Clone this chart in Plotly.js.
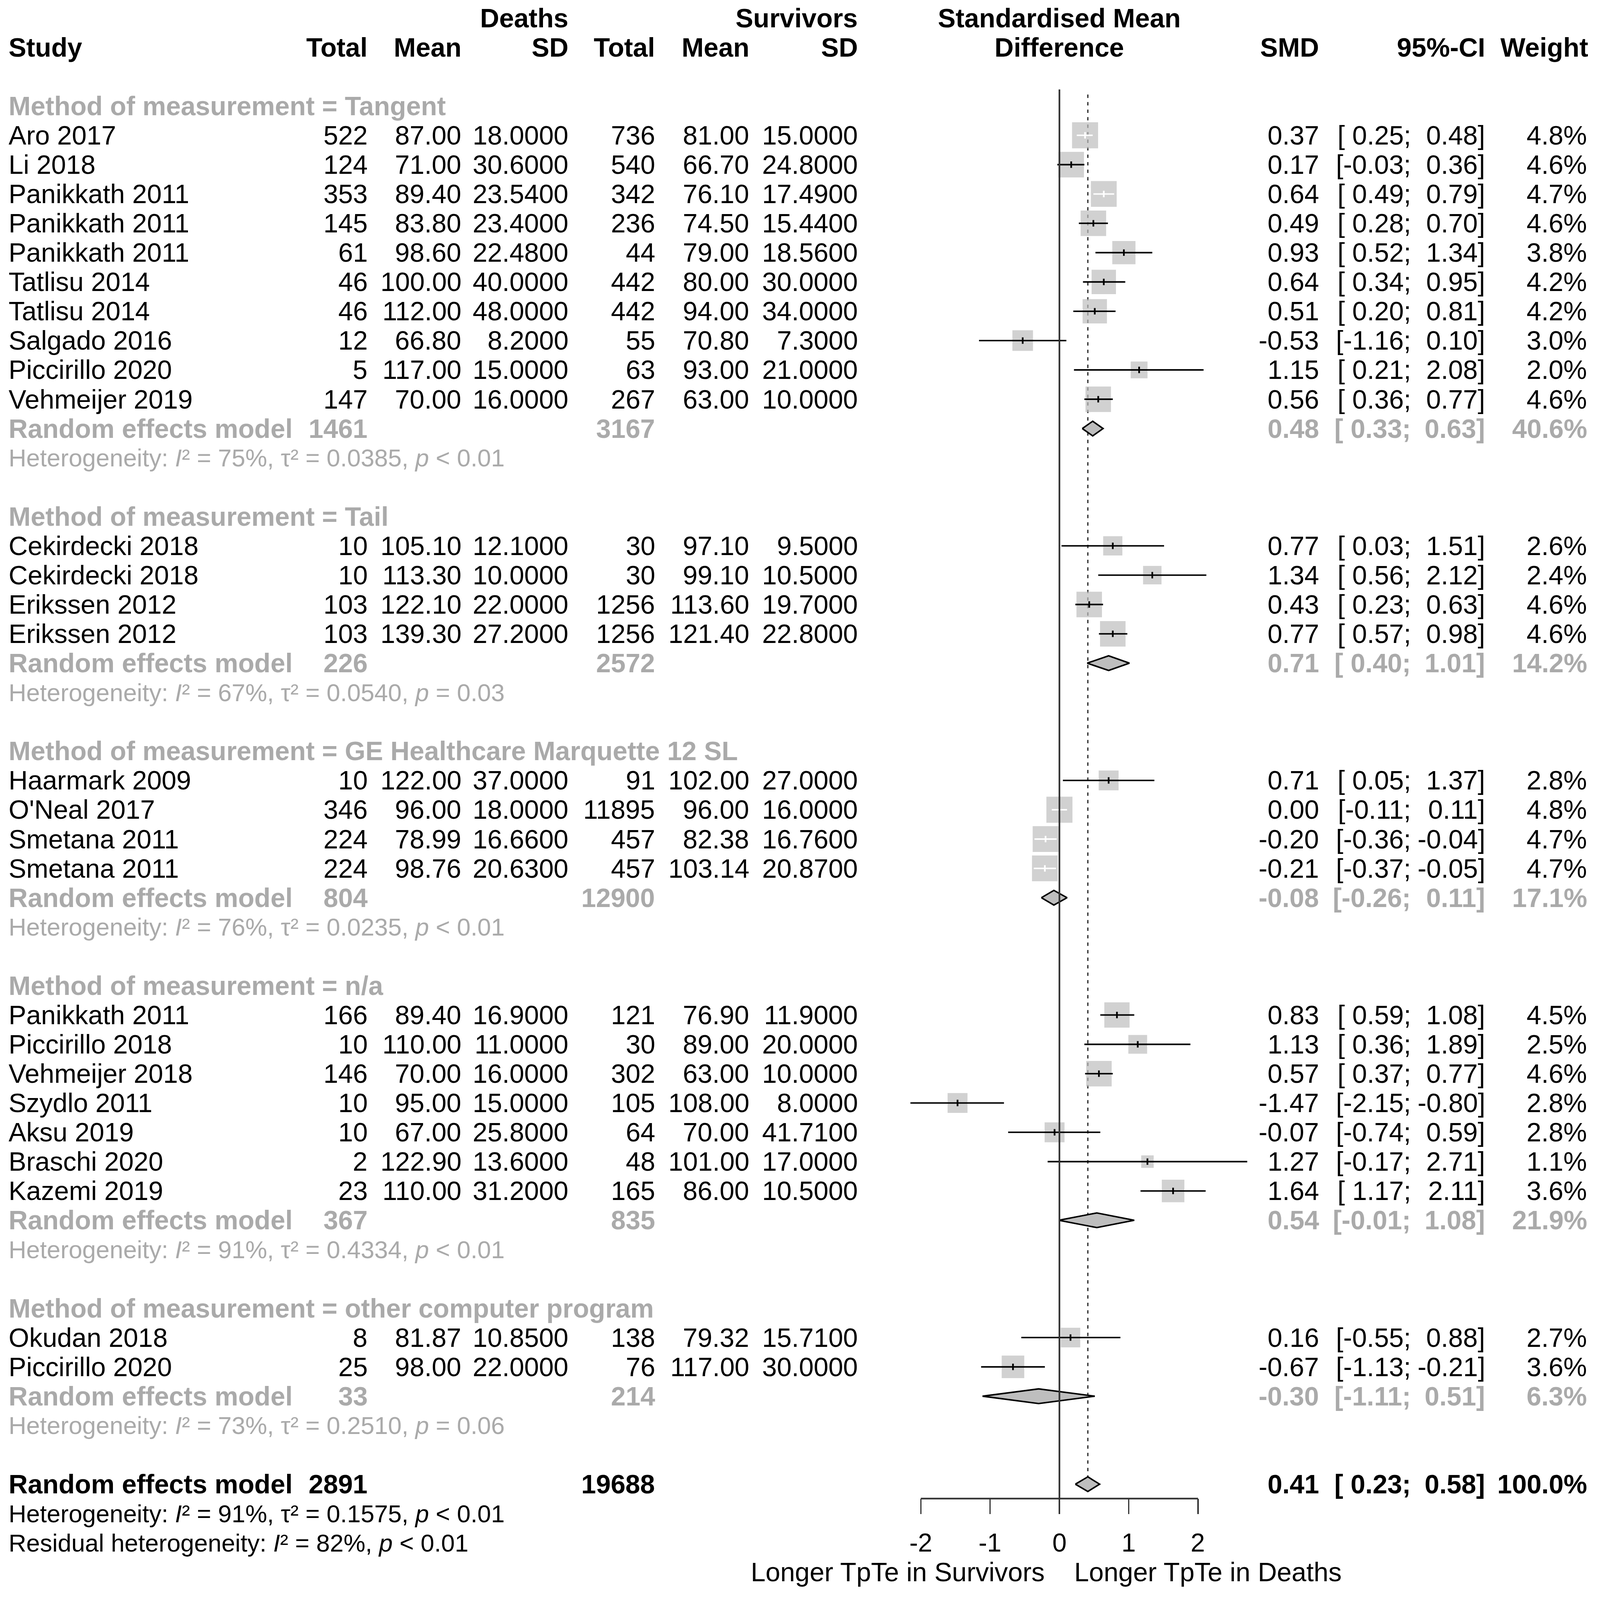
<!DOCTYPE html>
<html><head><meta charset="utf-8">
<script src="https://cdn.plot.ly/plotly-3.0.1.min.js"></script>
<style>html,body{margin:0;padding:0;background:#fff;overflow:hidden}</style>
</head><body><div id="chart"></div>
<script>
// ---------------- DATA ----------------
const groupNames = ["Tangent", "Tail", "GE Healthcare Marquette 12 SL", "n/a", "other computer program"];
const studyNames = ["Aro 2017","Li 2018","Panikkath 2011","Panikkath 2011","Panikkath 2011","Tatlisu 2014","Tatlisu 2014","Salgado 2016","Piccirillo 2020","Vehmeijer 2019",
  "Cekirdecki 2018","Cekirdecki 2018","Erikssen 2012","Erikssen 2012",
  "Haarmark 2009","O'Neal 2017","Smetana 2011","Smetana 2011",
  "Panikkath 2011","Piccirillo 2018","Vehmeijer 2018","Szydlo 2011","Aksu 2019","Braschi 2020","Kazemi 2019",
  "Okudan 2018","Piccirillo 2020"];
const studyGroup = [0,0,0,0,0,0,0,0,0,0, 1,1,1,1, 2,2,2,2, 3,3,3,3,3,3,3, 4,4];
const deathsTotal = [522,124,353,145,61,46,46,12,5,147, 10,10,103,103, 10,346,224,224, 166,10,146,10,10,2,23, 8,25];
const deathsMean = [87.00,71.00,89.40,83.80,98.60,100.00,112.00,66.80,117.00,70.00, 105.10,113.30,122.10,139.30, 122.00,96.00,78.99,98.76, 89.40,110.00,70.00,95.00,67.00,122.90,110.00, 81.87,98.00];
const deathsSD = [18.0,30.6,23.54,23.40,22.48,40.0,48.0,8.2,15.0,16.0, 12.1,10.0,22.0,27.2, 37.0,18.0,16.66,20.63, 16.9,11.0,16.0,15.0,25.8,13.6,31.2, 10.85,22.0];
const survTotal = [736,540,342,236,44,442,442,55,63,267, 30,30,1256,1256, 91,11895,457,457, 121,30,302,105,64,48,165, 138,76];
const survMean = [81.00,66.70,76.10,74.50,79.00,80.00,94.00,70.80,93.00,63.00, 97.10,99.10,113.60,121.40, 102.00,96.00,82.38,103.14, 76.90,89.00,63.00,108.00,70.00,101.00,86.00, 79.32,117.00];
const survSD = [15.0,24.8,17.49,15.44,18.56,30.0,34.0,7.3,21.0,10.0, 9.5,10.5,19.7,22.8, 27.0,16.0,16.76,20.87, 11.9,20.0,10.0,8.0,41.71,17.0,10.5, 15.71,30.0];
const smd = [0.37,0.17,0.64,0.49,0.93,0.64,0.51,-0.53,1.15,0.56, 0.77,1.34,0.43,0.77, 0.71,0.00,-0.20,-0.21, 0.83,1.13,0.57,-1.47,-0.07,1.27,1.64, 0.16,-0.67];
const ciLower = [0.25,-0.03,0.49,0.28,0.52,0.34,0.20,-1.16,0.21,0.36, 0.03,0.56,0.23,0.57, 0.05,-0.11,-0.36,-0.37, 0.59,0.36,0.37,-2.15,-0.74,-0.17,1.17, -0.55,-1.13];
const ciUpper = [0.48,0.36,0.79,0.70,1.34,0.95,0.81,0.10,2.08,0.77, 1.51,2.12,0.63,0.98, 1.37,0.11,-0.04,-0.05, 1.08,1.89,0.77,-0.80,0.59,2.71,2.11, 0.88,-0.21];
const weight = [4.8,4.6,4.7,4.6,3.8,4.2,4.2,3.0,2.0,4.6, 2.6,2.4,4.6,4.6, 2.8,4.8,4.7,4.7, 4.5,2.5,4.6,2.8,2.8,1.1,3.6, 2.7,3.6];

const groupDeathsTotal = [1461,226,804,367,33];
const groupSurvTotal = [3167,2572,12900,835,214];
const groupSMD = [0.48,0.71,-0.08,0.54,-0.30];
const groupLower = [0.33,0.40,-0.26,-0.01,-1.11];
const groupUpper = [0.63,1.01,0.11,1.08,0.51];
const groupWeight = [40.6,14.2,17.1,21.9,6.3];
const groupI2 = [75,67,76,91,73];
const groupTau2 = [0.0385,0.0540,0.0235,0.4334,0.2510];
const groupP = ["< 0.01","= 0.03","< 0.01","< 0.01","= 0.06"];

const overallDeathsTotal = 2891, overallSurvTotal = 19688;
const overallSMD = 0.41, overallLower = 0.23, overallUpper = 0.58, overallWeight = 100.0;
const overallI2 = 91, overallTau2 = 0.1575, overallP = "< 0.01";
const residualI2 = 82, residualP = "< 0.01";

const axisTicks = [-2,-1,0,1,2];
const axisTickText = ["-2","-1","0","1","2"];
const leftLabel = "Longer TpTe in Survivors", rightLabel = "Longer TpTe in Deaths";

// ---------------- LAYOUT GEOMETRY ----------------
// geometry is measured in the 4107x4434 reference; the figure is fitted to the real viewport
const REF_W = 4107, REF_H = 4434;
const W = Math.min(REF_W, window.innerWidth || REF_W);
const H = Math.min(REF_H, window.innerHeight || REF_H);
const sx = W / REF_W, sy = H / REF_H, k = (sx + sy) / 2;
const chartDiv = document.getElementById("chart");
chartDiv.style.width = W + "px"; chartDiv.style.height = H + "px";

const ROW_PX = 81.26, ROW1_PX = 50;
const X0_PX = 2719.4, UNIT_PX = 177.9;
const yTop = 1 - ROW1_PX / ROW_PX, yBot = 1 + (REF_H - ROW1_PX) / ROW_PX;
const xLeft = -X0_PX / UNIT_PX, xRight = (REF_W - X0_PX) / UNIT_PX;
const rowOfPx = px => 1 + (px - ROW1_PX) / ROW_PX;
const FONT = "Liberation Sans, Arial, Helvetica, sans-serif";
const GRAY = "#aaaaaa", SQ = "#bebebe";
const FS = 68 * sx, FSB = 68 * sx, FSH = 63 * sx, FST = 66 * sx;
const col = {study: 20, dT: 946, dM: 1186, dS: 1461, sT: 1684, sM: 1925, sS: 2204, smd: 3388, lo: 3624, hi: 3814, w: 4076};

// rows
const studyRow = [], headRow = [], reRow = [], hetRow = [];
let r = 4;
groupNames.forEach((g, gi) => {
  headRow[gi] = r++;
  studyGroup.forEach((sg, i) => { if (sg === gi) studyRow[i] = r++; });
  reRow[gi] = r++;
  hetRow[gi] = r++;
  r++;
});
const overallRow = r, overallHetRow = r + 1, residualRow = r + 2, labelRow = r + 3;

const ann = [];
function T(px, row, text, anchor, opts) {
  opts = opts || {};
  ann.push({x: px / REF_W, xref: "paper", y: row, yref: "y", text: text, showarrow: false,
    xanchor: anchor, yanchor: "middle",
    font: {family: FONT, size: opts.size || FS, color: opts.color || "#000"}});
}
const B = s => "<b>" + s + "</b>";
const ciLo = v => "[" + (v < 0 ? "" : " ") + v.toFixed(2) + ";";
const ciHi = v => v.toFixed(2) + "]";
const pct = v => v.toFixed(1) + "%";

// headers
T(col.dS, 1, B("Deaths"), "right", {size: FSB});
T(col.sS, 1, B("Survivors"), "right", {size: FSB});
T(X0_PX, 1, B("Standardised Mean"), "center", {size: FSB});
T(col.study, 2, B("Study"), "left", {size: FSB});
T(col.dT, 2, B("Total"), "right", {size: FSB});
T(col.dM, 2, B("Mean"), "right", {size: FSB});
T(col.dS, 2, B("SD"), "right", {size: FSB});
T(col.sT, 2, B("Total"), "right", {size: FSB});
T(col.sM, 2, B("Mean"), "right", {size: FSB});
T(col.sS, 2, B("SD"), "right", {size: FSB});
T(X0_PX, 2, B("Difference"), "center", {size: FSB});
T(col.smd, 2, B("SMD"), "right", {size: FSB});
T(col.hi, 2, B("95%-CI"), "right", {size: FSB});
T(col.w + 3, 2, B("Weight"), "right", {size: FSB});

// studies
studyNames.forEach((n, i) => {
  const y = studyRow[i];
  T(col.study, y, n, "left");
  T(col.dT, y, String(deathsTotal[i]), "right");
  T(col.dM, y, deathsMean[i].toFixed(2), "right");
  T(col.dS, y, deathsSD[i].toFixed(4), "right");
  T(col.sT, y, String(survTotal[i]), "right");
  T(col.sM, y, survMean[i].toFixed(2), "right");
  T(col.sS, y, survSD[i].toFixed(4), "right");
  T(col.smd, y, smd[i].toFixed(2), "right");
  T(col.lo, y, ciLo(ciLower[i]), "right");
  T(col.hi, y, ciHi(ciUpper[i]), "right");
  T(col.w, y, pct(weight[i]), "right");
});

const hetText = (i2, tau2, p) => "Heterogeneity: <i>I</i>\u00b2 = " + i2 + "%, \u03c4\u00b2 = " + tau2.toFixed(4) + ", <i>p</i> " + p.replace("<", "&lt;");

// subgroups
groupNames.forEach((g, gi) => {
  const o = {color: GRAY, size: FSB};
  T(col.study, headRow[gi], B("Method of measurement = " + g), "left", o);
  T(col.study, reRow[gi], B("Random effects model"), "left", o);
  T(col.dT, reRow[gi], B(String(groupDeathsTotal[gi])), "right", o);
  T(col.sT, reRow[gi], B(String(groupSurvTotal[gi])), "right", o);
  T(col.smd, reRow[gi], B(groupSMD[gi].toFixed(2)), "right", o);
  T(col.lo, reRow[gi], B(ciLo(groupLower[gi])), "right", o);
  T(col.hi, reRow[gi], B(ciHi(groupUpper[gi])), "right", o);
  T(col.w, reRow[gi], B(pct(groupWeight[gi])), "right", o);
  T(col.study, hetRow[gi], hetText(groupI2[gi], groupTau2[gi], groupP[gi]), "left", {color: GRAY, size: FSH});
});

// overall
T(col.study, overallRow, B("Random effects model"), "left", {size: FSB});
T(col.dT, overallRow, B(String(overallDeathsTotal)), "right", {size: FSB});
T(col.sT, overallRow, B(String(overallSurvTotal)), "right", {size: FSB});
T(col.smd, overallRow, B(overallSMD.toFixed(2)), "right", {size: FSB});
T(col.lo, overallRow, B(ciLo(overallLower)), "right", {size: FSB});
T(col.hi, overallRow, B(ciHi(overallUpper)), "right", {size: FSB});
T(col.w, overallRow, B(pct(overallWeight)), "right", {size: FSB});
T(col.study, overallHetRow, hetText(overallI2, overallTau2, overallP), "left", {size: FSH});
T(col.study, residualRow, "Residual heterogeneity: <i>I</i>\u00b2 = " + residualI2 + "%, <i>p</i> " + residualP.replace("<", "&lt;"), "left", {size: FSH});
T(X0_PX - 36, labelRow, leftLabel, "right");
T(X0_PX + 36, labelRow, rightLabel, "left");

// axis tick labels, placed on the SMD scale
const TICKLABEL_PX = 4275;
axisTicks.forEach((v, i) => {
  ann.push({x: v, xref: "x", y: rowOfPx(TICKLABEL_PX), yref: "y", text: axisTickText[i], showarrow: false,
    xanchor: "center", yanchor: "middle", font: {family: FONT, size: FST, color: "#000"}});
});

// ---------------- MARKS ----------------
const SQ_K = 31.7; // reference px per sqrt(weight %)
const sqSizeRef = weight.map(w => SQ_K * Math.sqrt(w));
const TICK_H = 0.11;
const blk = {x: [], y: []}, wht = {x: [], y: []}, blkT = {x: [], y: []}, whtT = {x: [], y: []};
smd.forEach((v, i) => {
  const half = sqSizeRef[i] / 2 / UNIT_PX;
  const inside = ciLower[i] >= v - half && ciUpper[i] <= v + half;
  const L = inside ? wht : blk, Tt = inside ? whtT : blkT;
  L.x.push(ciLower[i], ciUpper[i], null); L.y.push(studyRow[i], studyRow[i], null);
  Tt.x.push(v, v, null); Tt.y.push(studyRow[i] - TICK_H, studyRow[i] + TICK_H, null);
});
const DH = 0.25;
const dia = {x: [], y: []};
function addDiamond(lo, est, hi, row) {
  dia.x.push(lo, est, hi, est, lo, null);
  dia.y.push(row, row - DH, row, row + DH, row, null);
}
groupNames.forEach((g, gi) => addDiamond(groupLower[gi], groupSMD[gi], groupUpper[gi], reRow[gi]));
addDiamond(overallLower, overallSMD, overallUpper, overallRow);

const traces = [
  {type: "scatter", mode: "markers", x: smd, y: studyRow, marker: {symbol: "square", size: sqSizeRef.map(s => s * k), color: SQ, line: {width: 0}}, hoverinfo: "skip"},
  {type: "scatter", mode: "lines", x: blk.x, y: blk.y, line: {color: "#000", width: 4 * k}, hoverinfo: "skip"},
  {type: "scatter", mode: "lines", x: blkT.x, y: blkT.y, line: {color: "#000", width: 4.5 * k}, hoverinfo: "skip"},
  {type: "scatter", mode: "lines", x: wht.x, y: wht.y, line: {color: "#fff", width: 4 * k}, hoverinfo: "skip"},
  {type: "scatter", mode: "lines", x: whtT.x, y: whtT.y, line: {color: "#fff", width: 4.5 * k}, hoverinfo: "skip"},
  {type: "scatter", mode: "lines", x: dia.x, y: dia.y, fill: "toself", fillcolor: SQ, line: {color: "#000", width: 4 * k}, hoverinfo: "skip"}
];

const AXIS_PX = 4153;
const axisRow = rowOfPx(AXIS_PX);
const shapes = [
  {type: "line", xref: "x", yref: "y", x0: overallSMD, x1: overallSMD, y0: rowOfPx(262), y1: overallRow - DH, line: {color: "#333", width: 3.5 * k, dash: (9 * k) + "px," + (11 * k) + "px"}, layer: "below"},
  {type: "line", xref: "x", yref: "y", x0: 0, x1: 0, y0: rowOfPx(248), y1: axisRow, line: {color: "#333", width: 4.5 * k}, layer: "above"},
  {type: "line", xref: "x", yref: "y", x0: axisTicks[0], x1: axisTicks[axisTicks.length - 1], y0: axisRow, y1: axisRow, line: {color: "#333", width: 4.5 * k}, layer: "above"}
];

const layout = {
  width: W, height: H, margin: {l: 0, r: 0, t: 0, b: 0, pad: 0},
  paper_bgcolor: "#fff", plot_bgcolor: "#fff", showlegend: false,
  xaxis: {range: [xLeft, xRight], domain: [0, 1], anchor: "free", position: 1 - AXIS_PX / REF_H,
    tickvals: axisTicks, ticks: "outside", ticklen: 42 * sy, tickwidth: 3.5 * k, tickcolor: "#333",
    showticklabels: false, showline: false, showgrid: false, zeroline: false, fixedrange: true},
  yaxis: {range: [yBot, yTop], domain: [0, 1], visible: false, showgrid: false, zeroline: false, fixedrange: true},
  shapes: shapes, annotations: ann, hovermode: false
};
Plotly.newPlot("chart", traces, layout, {staticPlot: true, displayModeBar: false});
</script></body></html>
